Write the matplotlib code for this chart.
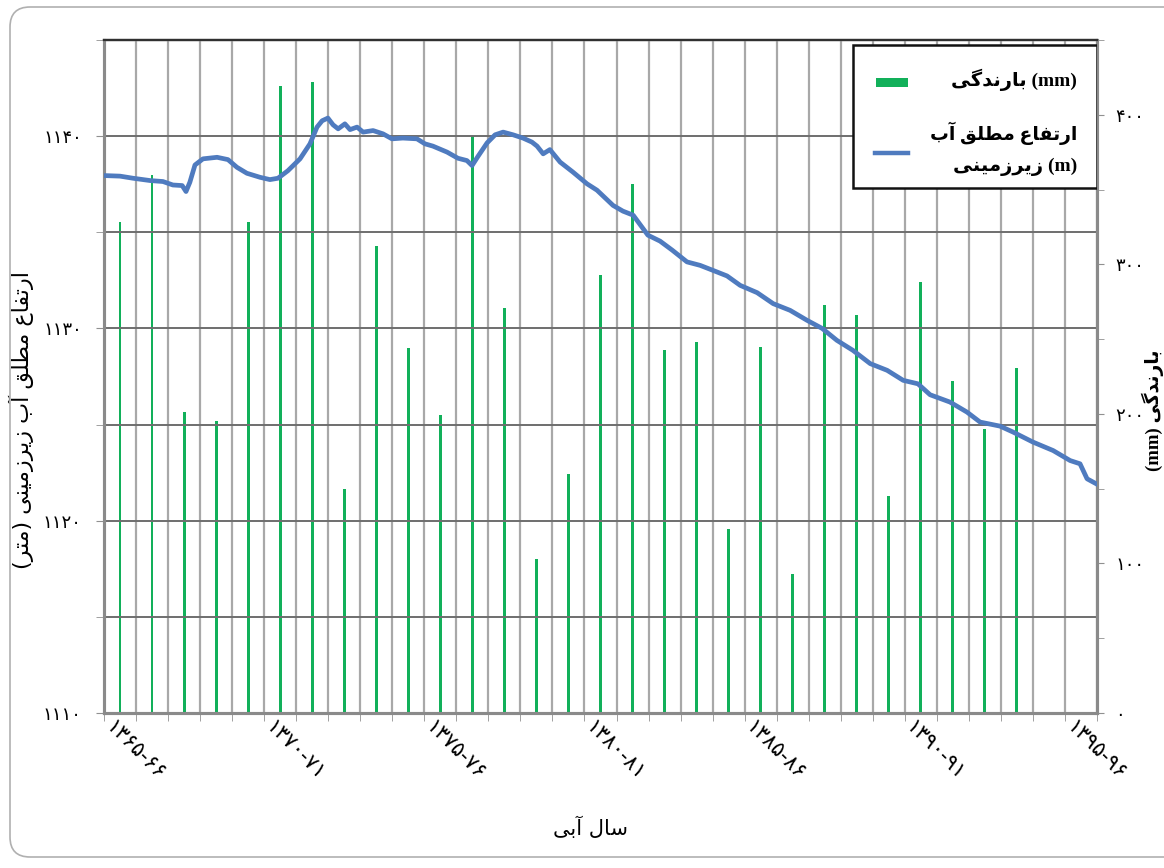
import numpy as np
import matplotlib.pyplot as plt
from matplotlib.patches import FancyBboxPatch, Rectangle
from matplotlib.lines import Line2D

# contextual glyphs: isolated, final, initial, medial (None = letter does not join forward)
FORMS = {
    'ا': ('\uFE8D', '\uFE8E', None, None),
    'آ': ('\uFE81', '\uFE82', None, None),
    'ب': ('\uFE8F', '\uFE90', '\uFE91', '\uFE92'),
    'ت': ('\uFE95', '\uFE96', '\uFE97', '\uFE98'),
    'د': ('\uFEA9', '\uFEAA', None, None),
    'ر': ('\uFEAD', '\uFEAE', None, None),
    'ز': ('\uFEAF', '\uFEB0', None, None),
    'س': ('\uFEB1', '\uFEB2', '\uFEB3', '\uFEB4'),
    'ط': ('\uFEC1', '\uFEC2', '\uFEC3', '\uFEC4'),
    'ع': ('\uFEC9', '\uFECA', '\uFECB', '\uFECC'),
    'ف': ('\uFED1', '\uFED2', '\uFED3', '\uFED4'),
    'ق': ('\uFED5', '\uFED6', '\uFED7', '\uFED8'),
    'ل': ('\uFEDD', '\uFEDE', '\uFEDF', '\uFEE0'),
    'م': ('\uFEE1', '\uFEE2', '\uFEE3', '\uFEE4'),
    'ن': ('\uFEE5', '\uFEE6', '\uFEE7', '\uFEE8'),
    'گ': ('\uFB92', '\uFB93', '\uFB94', '\uFB95'),
    'ی': ('\uFBFC', '\uFBFD', '\uFBFE', '\uFBFF'),
}
MIRROR = {'(': ')', ')': '('}
FA_DIGITS = str.maketrans('0123456789', '۰۱۲۳۴۵۶۷۸۹')


def fa(text):
    # shape persian letters and put them in visual (left-to-right) order
    out = []
    for i, ch in enumerate(text):
        if ch not in FORMS:
            out.append(MIRROR.get(ch, ch))
            continue
        prev = text[i - 1] if i > 0 else ''
        nxt = text[i + 1] if i + 1 < len(text) else ''
        join_prev = prev in FORMS and FORMS[prev][2] is not None
        join_next = FORMS[ch][2] is not None and nxt in FORMS
        iso, fin, ini, med = FORMS[ch]
        if join_prev and join_next:
            out.append(med)
        elif join_prev:
            out.append(fin)
        elif join_next:
            out.append(ini)
        else:
            out.append(iso)
    return ''.join(reversed(out))


def fa_num(v):
    return str(v).translate(FA_DIGITS)


# water years 1365-66 .. 1395-96
first_year = 1365
n_years = 31
label_years = [1365, 1370, 1375, 1380, 1385, 1390, 1395]

# annual rainfall (mm), 1365-66 .. 1393-94
rain = [328, 360, 201, 195, 328, 419, 422, 150, 312, 244,
        199, 386, 271, 103, 160, 293, 354, 243, 248, 123,
        245, 93, 273, 266, 145, 288, 222, 190, 231]

# groundwater level (m), time in years from start of 1365-66
level_t = [0.0, 0.50, 0.91, 1.44, 1.84, 2.15, 2.44, 2.56, 2.68, 2.84,
           3.09, 3.53, 3.87, 4.15, 4.46, 4.87, 5.18, 5.43, 5.74, 6.12,
           6.43, 6.65, 6.81, 6.99, 7.15, 7.31, 7.52, 7.68, 7.90, 8.09,
           8.40, 8.71, 8.99, 9.33, 9.77, 10.02, 10.27, 10.71, 11.05, 11.33,
           11.49, 11.68, 11.96, 12.21, 12.46, 12.77, 13.08, 13.36, 13.52, 13.71,
           13.92, 14.24, 14.64, 15.08, 15.39, 15.89, 16.20, 16.52, 16.98, 17.36,
           17.74, 18.20, 18.61, 19.01, 19.45, 19.86, 20.39, 20.89, 21.42, 21.95,
           22.42, 22.88, 23.38, 23.92, 24.45, 24.95, 25.41, 25.79, 26.41, 26.94,
           27.35, 27.97, 28.38, 29.00, 29.63, 30.16, 30.47, 30.69, 31.0]
level = [1137.95, 1137.92, 1137.81, 1137.69, 1137.64, 1137.46, 1137.43, 1137.12, 1137.60, 1138.50,
         1138.82, 1138.90, 1138.78, 1138.38, 1138.07, 1137.86, 1137.74, 1137.81, 1138.20, 1138.82,
         1139.60, 1140.47, 1140.80, 1140.94, 1140.59, 1140.38, 1140.64, 1140.34, 1140.47, 1140.21,
         1140.29, 1140.12, 1139.86, 1139.90, 1139.86, 1139.60, 1139.48, 1139.17, 1138.85, 1138.73,
         1138.47, 1138.96, 1139.65, 1140.07, 1140.21, 1140.07, 1139.90, 1139.69, 1139.48, 1139.08,
         1139.30, 1138.65, 1138.13, 1137.52, 1137.19, 1136.40, 1136.10, 1135.89, 1134.85, 1134.54,
         1134.07, 1133.46, 1133.28, 1133.02, 1132.73, 1132.24, 1131.86, 1131.29, 1130.94, 1130.42,
         1130.00, 1129.38, 1128.86, 1128.17, 1127.82, 1127.30, 1127.12, 1126.55, 1126.17, 1125.65,
         1125.13, 1124.92, 1124.61, 1124.09, 1123.65, 1123.13, 1122.96, 1122.18, 1121.90]

GREEN = '#12b05a'
BLUE = '#4f7bbf'

plt.rcParams['font.family'] = ['DejaVu Sans']

fig = plt.figure(figsize=(11.64, 8.68), dpi=100)
pos = [104 / 1164, 1 - 713 / 868, 993 / 1164, 673 / 868]
ax = fig.add_axes(pos)
ax2 = ax.twinx()
ax.set_zorder(ax2.get_zorder() + 1)
ax.patch.set_visible(False)

# rainfall bars on the right-hand axis
ax2.bar(np.arange(len(rain)) + 0.5, rain, width=0.09, color=GREEN, zorder=2)
ax2.set_ylim(0, 450)
ax2.set_yticks([0, 100, 200, 300, 400])
ax2.set_yticks(np.arange(0, 451, 50), minor=True)
ax2.set_yticklabels([fa_num(v) for v in [0, 100, 200, 300, 400]], fontsize=13)
ax2.tick_params(axis='y', which='both', direction='out', length=5, color='#909090', pad=8)

# groundwater level on the left-hand axis
ax.plot(level_t, level, color=BLUE, lw=3.4, zorder=5, solid_joinstyle='round')
ax.set_xlim(0, n_years)
ax.set_ylim(1110, 1145)
ax.set_yticks(np.arange(1110, 1141, 10))
ax.set_yticks(np.arange(1110, 1146, 5), minor=True)
ax.set_yticklabels([fa_num(v) for v in range(1110, 1141, 10)], fontsize=13)
ax.tick_params(axis='y', which='both', direction='out', length=6, color='#909090', pad=10)

# year labels sit just right of their boundary line; boundaries carry the ticks and grid
ax.set_xticks([y - first_year + 0.35 for y in label_years])
ax.set_xticks(np.arange(0, n_years + 1), minor=True)
ax.set_xticklabels([fa_num(f'{y}-{(y + 1) % 100:02d}') for y in label_years], fontsize=15)
ax.tick_params(axis='x', which='major', length=0, pad=3)
ax.tick_params(axis='x', which='minor', direction='out', length=6, color='#909090')
plt.setp(ax.get_xticklabels(), rotation=-45, ha='left', va='top', rotation_mode='anchor')

ax.grid(axis='x', which='minor', color='#a8a8a8', lw=1.6, zorder=0)
ax.grid(axis='y', which='both', color='#6e6e6e', lw=1.4, zorder=0)

for a in (ax, ax2):
    for side in ('left', 'right', 'bottom'):
        a.spines[side].set_color('#8a8a8a')
        a.spines[side].set_linewidth(2.2)
    a.spines['top'].set_color('#303030')
    a.spines['top'].set_linewidth(1.6)

ax.text(-0.083, 0.435, fa('ارتفاع مطلق آب زیرزمینی (متر)'), fontsize=16, rotation=90,
        ha='center', va='center', transform=ax.transAxes)
ax2.text(1.0565, 0.45, '(mm) ' + fa('بارندگی'), fontsize=13.5, fontweight='bold',
         family=['Liberation Serif', 'DejaVu Sans'], rotation=90,
         ha='center', va='center', transform=ax2.transAxes)
ax.text(0.49, -0.171, fa('سال آبی'), fontsize=15, ha='center', va='center',
        transform=ax.transAxes)

# legend box
ax.add_patch(Rectangle((0.754, 0.78), 0.246, 0.2126, transform=ax.transAxes,
                       facecolor='white', edgecolor='#111111', lw=1.8, zorder=10))
ax.add_patch(Rectangle((0.777, 0.930), 0.033, 0.0135, transform=ax.transAxes,
                       facecolor=GREEN, edgecolor='none', zorder=11))
ax.add_line(Line2D([0.776, 0.810], [0.832, 0.832], transform=ax.transAxes,
                   color=BLUE, lw=3.2, zorder=11))
legend_font = dict(fontweight='bold', family=['Liberation Serif', 'DejaVu Sans'],
                   ha='right', va='center', transform=ax.transAxes, zorder=12)
ax.text(0.98, 0.9406, fa('بارندگی') + ' (mm)', fontsize=14, **legend_font)
ax.text(0.98, 0.862, fa('ارتفاع مطلق آب'), fontsize=13.5, **legend_font)
ax.text(0.98, 0.811, fa('زیرزمینی') + ' (m)', fontsize=14, **legend_font)

# rounded frame around the chart
frame = FancyBboxPatch((0.10, 0.11), 11.8, 8.5, boxstyle='round,pad=0,rounding_size=0.2',
                       transform=fig.dpi_scale_trans, facecolor='none',
                       edgecolor='#b0b0b0', lw=1.2)
fig.patches.append(frame)

fig.savefig('out.png', dpi=100)
